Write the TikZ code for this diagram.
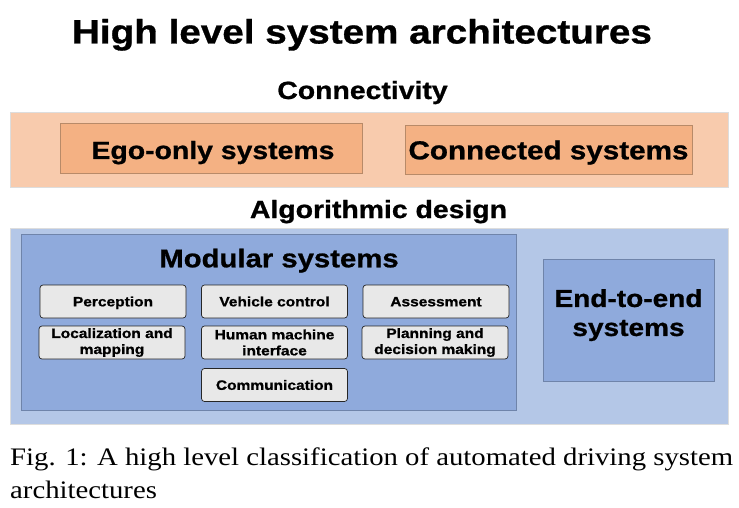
\documentclass[tikz,border=0pt]{standalone}
\usepackage{fontspec}
\setmainfont{Liberation Serif}[FakeStretch=1.14]
\setsansfont{Liberation Sans}[FakeStretch=1.14, BoldFeatures={FakeBold=0.9}]
\definecolor{orband}{HTML}{F8CBAD}
\definecolor{orbox}{HTML}{F4B183}
\definecolor{orline}{HTML}{B88A68}
\definecolor{blband}{HTML}{B4C7E7}
\definecolor{blbox}{HTML}{8FAADC}
\definecolor{blline}{HTML}{6F84AA}
\definecolor{smbox}{HTML}{E8E8E8}
\definecolor{bandline}{HTML}{DDDDDD}
\newcommand{\sfb}[2]{\sffamily\bfseries\fontsize{#1}{#2}\selectfont}
\begin{document}
\begin{tikzpicture}[x=1pt,y=-1pt,
  txt/.style={inner sep=0pt, anchor=base, align=center},
  band/.style={draw=bandline, line width=0.6pt, inner sep=0pt},
  bigbox/.style={draw=orline, fill=orbox, line width=0.6pt, inner sep=0pt},
  bluebox/.style={draw=blline, fill=blbox, line width=0.6pt, inner sep=0pt},
  smallbox/.style={draw=black!85, fill=smbox, line width=0.7pt, rounded corners=3pt, inner sep=0pt,
    minimum width=146, minimum height=33, align=center, font=\sfb{13.6}{16}},
  oneline/.style={text height=9.7pt, text depth=0pt}]
\useasboundingbox (0,0) rectangle (739,508);
\fill[white] (0,0) rectangle (739,508);
% title
\node[txt, font=\sfb{33.9}{38}] (title) at (362,43.5) {High level system architectures};
% connectivity
\node[txt, font=\sfb{24.9}{28}] (conn) at (362.5,99) {Connectivity};
\node[band, fill=orband, minimum width=718, minimum height=75] (cband) at (369,149.5) {};
\node[bigbox, minimum width=302, minimum height=50] (ego) at (211,148) {};
\node[bigbox, minimum width=287, minimum height=49] (connected) at (548.5,149.5) {};
\node[txt, font=\sfb{24.9}{28}] (egotext) at (213,159) {Ego-only systems};
\node[txt, font=\sfb{26}{28}] (conntext) at (548.5,159.3) {Connected systems};
% algorithmic design
\node[txt, font=\sfb{24.9}{28}] (alg) at (378.5,218) {Algorithmic design};
\node[band, fill=blband, minimum width=718, minimum height=196] (aband) at (369,326) {};
\node[bluebox, minimum width=495, minimum height=176] (modular) at (268.5,322) {};
\node[txt, font=\sfb{25.7}{30}] (modtitle) at (279,267.3) {Modular systems};
\node[smallbox, oneline] (perc) at (113,301.5) {Perception};
\node[smallbox, oneline] (vc) at (274.5,301.5) {Vehicle control};
\node[smallbox, oneline] (assess) at (436,301.5) {Assessment};
\node[smallbox] (loc) at (112,342.5) {Localization and\\mapping};
\node[smallbox] (hmi) at (274.5,342.5) {Human machine\\interface};
\node[smallbox] (plan) at (435,342.5) {Planning and\\decision making};
\node[smallbox, oneline] (comm) at (274.5,385) {Communication};
\node[bluebox, minimum width=171, minimum height=122] (e2e) at (628.5,320) {};
\node[inner sep=0pt, align=center, font=\sfb{24.6}{29}] (e2etext) at (e2e.center) [yshift=4.9pt] {End-to-end\\systems};
% caption
\node[anchor=base west, inner sep=0pt, font=\fontsize{25.2}{30}\selectfont] (cap1) at (10,465) {Fig. 1: A high level classification of automated driving system};
\node[anchor=base west, inner sep=0pt, font=\fontsize{25.2}{30}\selectfont] (cap2) at (10,498) {architectures};
\end{tikzpicture}
\end{document}
